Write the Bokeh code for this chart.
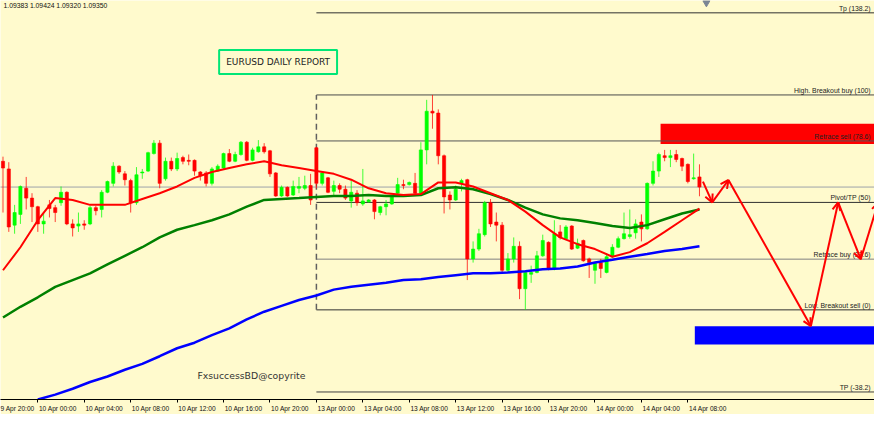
from bokeh.plotting import figure
from bokeh.models import ColumnDataSource, Range1d, FixedTicker, Label, Arrow, OpenHead
from bokeh.core.properties import value
from bokeh.embed import file_html
from bokeh.resources import INLINE

# ---------------- data (EURUSD, M30 bars, index 0 = 10 Apr 00:00) ----------------
bar_idx = list(range(-6, 115))

opens = [
    1.09434, 1.09409, 1.09226, 1.09261, 1.09346, 1.09314,
    1.09286, 1.09230, 1.09292, 1.09283, 1.09299, 1.09333, 1.09230, 1.09223,
    1.09230, 1.09230, 1.09283, 1.09277, 1.09333, 1.09362, 1.09418, 1.09393,
    1.09371, 1.09299, 1.09396, 1.09402, 1.09459, 1.09493, 1.09377, 1.09434,
    1.09409, 1.09446, 1.09437, 1.09437, 1.09399, 1.09396, 1.09362, 1.09402,
    1.09412, 1.09459, 1.09434, 1.09456, 1.09496, 1.09437, 1.09465, 1.09481,
    1.09468, 1.09396, 1.09321, 1.09349, 1.09324, 1.09346, 1.09346, 1.09355,
    1.09478, 1.09362, 1.09380, 1.09336, 1.09355, 1.09343, 1.09305, 1.09330,
    1.09295, 1.09302, 1.09308, 1.09267, 1.09286, 1.09295, 1.09330, 1.09358,
    1.09358, 1.09362, 1.09330, 1.09471, 1.09597, 1.09591, 1.09452, 1.09324,
    1.09308, 1.09362, 1.09374, 1.09116, 1.09148, 1.09195, 1.09299, 1.09236,
    1.09226, 1.09079, 1.09116, 1.09157, 1.09019, 1.09066, 1.09072, 1.09126,
    1.09170, 1.09085, 1.09204, 1.09182, 1.09223, 1.09151, 1.09176, 1.09116,
    1.09079, 1.09104, 1.09072, 1.09123, 1.09154, 1.09182, 1.09189, 1.09201,
    1.09236, 1.09214, 1.09362, 1.09402, 1.09452, 1.09446, 1.09456, 1.09443,
    1.09424, 1.09377, 1.09383,
]
highs = [
    1.09449, 1.09431, 1.09292, 1.09355, 1.09383, 1.09330,
    1.09289, 1.09267, 1.09308, 1.09292, 1.09352, 1.09336, 1.09245, 1.09267,
    1.09242, 1.09289, 1.09289, 1.09340, 1.09371, 1.09431, 1.09421, 1.09402,
    1.09377, 1.09415, 1.09409, 1.09465, 1.09503, 1.09503, 1.09446, 1.09446,
    1.09462, 1.09452, 1.09456, 1.09440, 1.09402, 1.09402, 1.09415, 1.09424,
    1.09462, 1.09474, 1.09465, 1.09500, 1.09500, 1.09478, 1.09503, 1.09493,
    1.09471, 1.09399, 1.09355, 1.09352, 1.09371, 1.09383, 1.09387, 1.09393,
    1.09481, 1.09399, 1.09383, 1.09371, 1.09362, 1.09355, 1.09371, 1.09340,
    1.09409, 1.09311, 1.09311, 1.09289, 1.09308, 1.09324, 1.09380, 1.09374,
    1.09368, 1.09396, 1.09496, 1.09634, 1.09650, 1.09603, 1.09456, 1.09336,
    1.09355, 1.09377, 1.09377, 1.09173, 1.09214, 1.09305, 1.09311, 1.09267,
    1.09236, 1.09135, 1.09186, 1.09173, 1.09079, 1.09094, 1.09142, 1.09195,
    1.09173, 1.09242, 1.09226, 1.09226, 1.09226, 1.09182, 1.09179, 1.09120,
    1.09104, 1.09116, 1.09135, 1.09164, 1.09189, 1.09267, 1.09277, 1.09245,
    1.09261, 1.09365, 1.09434, 1.09462, 1.09471, 1.09471, 1.09471, 1.09446,
    1.09427, 1.09459, 1.09424,
]
lows = [
    1.09267, 1.09204, 1.09198, 1.09230, 1.09277, 1.09236,
    1.09204, 1.09198, 1.09251, 1.09236, 1.09289, 1.09226, 1.09189, 1.09204,
    1.09211, 1.09226, 1.09258, 1.09251, 1.09330, 1.09352, 1.09393, 1.09355,
    1.09267, 1.09292, 1.09377, 1.09399, 1.09456, 1.09346, 1.09371, 1.09402,
    1.09402, 1.09424, 1.09421, 1.09387, 1.09371, 1.09352, 1.09355, 1.09399,
    1.09409, 1.09431, 1.09431, 1.09452, 1.09434, 1.09434, 1.09462, 1.09459,
    1.09383, 1.09318, 1.09318, 1.09318, 1.09321, 1.09330, 1.09340, 1.09292,
    1.09346, 1.09355, 1.09330, 1.09324, 1.09330, 1.09308, 1.09283, 1.09289,
    1.09289, 1.09299, 1.09245, 1.09258, 1.09258, 1.09292, 1.09324, 1.09343,
    1.09355, 1.09327, 1.09327, 1.09424, 1.09540, 1.09424, 1.09264, 1.09277,
    1.09305, 1.09336, 1.09047, 1.09104, 1.09142, 1.09189, 1.09220, 1.09173,
    1.09072, 1.09072, 1.09104, 1.08985, 1.08950, 1.09038, 1.09069, 1.09123,
    1.09079, 1.09079, 1.09179, 1.09179, 1.09145, 1.09148, 1.09107, 1.09054,
    1.09035, 1.09054, 1.09069, 1.09120, 1.09151, 1.09179, 1.09182, 1.09182,
    1.09173, 1.09211, 1.09355, 1.09383, 1.09434, 1.09415, 1.09431, 1.09402,
    1.09362, 1.09374, 1.09320,
]
closes = [
    1.09412, 1.09220, 1.09267, 1.09352, 1.09314, 1.09286,
    1.09230, 1.09239, 1.09280, 1.09267, 1.09333, 1.09230, 1.09217, 1.09230,
    1.09226, 1.09283, 1.09273, 1.09333, 1.09368, 1.09418, 1.09399, 1.09374,
    1.09299, 1.09390, 1.09399, 1.09462, 1.09493, 1.09362, 1.09434, 1.09409,
    1.09443, 1.09434, 1.09434, 1.09402, 1.09387, 1.09362, 1.09409, 1.09418,
    1.09459, 1.09434, 1.09456, 1.09496, 1.09437, 1.09471, 1.09481, 1.09465,
    1.09393, 1.09321, 1.09349, 1.09321, 1.09352, 1.09352, 1.09355, 1.09308,
    1.09362, 1.09396, 1.09333, 1.09355, 1.09343, 1.09314, 1.09333, 1.09299,
    1.09305, 1.09308, 1.09270, 1.09286, 1.09295, 1.09321, 1.09358, 1.09355,
    1.09365, 1.09330, 1.09471, 1.09597, 1.09591, 1.09452, 1.09318, 1.09308,
    1.09343, 1.09371, 1.09116, 1.09148, 1.09198, 1.09299, 1.09230, 1.09226,
    1.09079, 1.09116, 1.09157, 1.09019, 1.09072, 1.09072, 1.09126, 1.09176,
    1.09085, 1.09198, 1.09186, 1.09220, 1.09148, 1.09167, 1.09110, 1.09104,
    1.09101, 1.09085, 1.09123, 1.09154, 1.09182, 1.09198, 1.09195, 1.09230,
    1.09214, 1.09362, 1.09402, 1.09456, 1.09446, 1.09452, 1.09440, 1.09418,
    1.09368, 1.09380, 1.09350,
]

# moving averages read at every third bar
ma_idx = [-6, -3, 0, 3, 6, 9, 12, 15, 18, 21, 24, 27, 30, 33, 36, 39, 42, 45, 48, 51,
          54, 57, 60, 63, 66, 69, 72, 75, 78, 81, 84, 87, 90, 93, 96, 99, 102, 105, 108, 111, 114]
ma_red = [
    1.09079, 1.09154, 1.09242, 1.09314, 1.09308, 1.09292, 1.09292, 1.09292, 1.09311, 1.09330,
    1.09352, 1.09380, 1.09399, 1.09412, 1.09424, 1.09434, 1.09421, 1.09412, 1.09402, 1.09393,
    1.09374, 1.09346, 1.09330, 1.09324, 1.09327, 1.09365, 1.09365, 1.09352, 1.09330, 1.09308,
    1.09270, 1.09226, 1.09186, 1.09164, 1.09148, 1.09123, 1.09138, 1.09167, 1.09204, 1.09242,
    1.09280,
]
ma_green = [
    1.08925, 1.08960, 1.08991, 1.09025, 1.09047, 1.09069, 1.09098, 1.09126, 1.09154, 1.09186,
    1.09211, 1.09226, 1.09242, 1.09261, 1.09286, 1.09308, 1.09311, 1.09314, 1.09318, 1.09321,
    1.09321, 1.09324, 1.09321, 1.09321, 1.09324, 1.09346, 1.09349, 1.09343, 1.09327, 1.09308,
    1.09283, 1.09261, 1.09248, 1.09242, 1.09233, 1.09223, 1.09217, 1.09226, 1.09245, 1.09264,
    1.09277,
]
blue_idx = ma_idx[2:]
ma_blue = [
    1.08658, 1.08674, 1.08693, 1.08715, 1.08733, 1.08755, 1.08774, 1.08799, 1.08825, 1.08843,
    1.08868, 1.08890, 1.08919, 1.08944, 1.08963, 1.08982, 1.08997, 1.09016, 1.09025, 1.09032,
    1.09038, 1.09047, 1.09050, 1.09057, 1.09063, 1.09069, 1.09069, 1.09072, 1.09076, 1.09082,
    1.09085, 1.09091, 1.09104, 1.09113, 1.09123, 1.09132, 1.09142, 1.09148, 1.09157,
]

# Fibonacci drawing
fib_high = 1.09650
fib_low = 1.08950
fib_start = 48
fib_ratios = [138.2, 100, 78.6, 50, 23.6, 0, -38.2]
fib_names = ["Tp (138.2)", "High. Breakout buy (100)", "Retrace sell (78.6)", "Pivot/TP (50)",
             "Retrace buy (23.6)", "Low. Breakout sell (0)", "TP (-38.2)"]
fib_colors = ["#303030", "#4a4a4a", "#555555", "#303030", "#808080", "#303030", "#404040"]

# zones
sell_zone = dict(left=107.3, bottom=1.09490, top=1.09556)
buy_zone = dict(left=113.2, bottom=1.08837, top=1.08897)

# projected zig-zag path
zz_idx = [114.6, 116.2, 119.0, 133.2, 137.9, 141.8, 144.8]
zz_price = [1.09368, 1.09300, 1.09373, 1.08897, 1.09300, 1.09115, 1.09300]

# time axis
tick_idx = [-8, 0, 8, 16, 24, 32, 40, 48, 56, 64, 72, 80, 88, 96, 104, 112]
tick_labels = ["9 Apr 20:00", "10 Apr 00:00", "10 Apr 04:00", "10 Apr 08:00", "10 Apr 12:00",
               "10 Apr 16:00", "10 Apr 20:00", "13 Apr 00:00", "13 Apr 04:00", "13 Apr 08:00",
               "13 Apr 12:00", "13 Apr 16:00", "13 Apr 20:00", "14 Apr 00:00", "14 Apr 04:00",
               "14 Apr 08:00"]

header = "1.09383 1.09424 1.09320 1.09350"

# ---------------- figure ----------------
BG = "#FFFACD"
p = figure(width=874, height=414,
           x_range=Range1d(-6.43, 144.16), y_range=Range1d(1.086581, 1.099576),
           output_backend="svg", toolbar_location=None, y_axis_location=None,
           min_border_left=0, min_border_right=0, min_border_top=0, min_border_bottom=0,
           background_fill_color=BG, border_fill_color=BG, outline_line_color=None)
p.grid.visible = False

# x axis with labels starting at the tick
label_offset = 3.45
ax = p.xaxis[0]
ax.ticker = FixedTicker(ticks=[t + label_offset for t in tick_idx], minor_ticks=tick_idx)
ax.major_label_overrides = {t + label_offset: lab for t, lab in zip(tick_idx, tick_labels)}
ax.major_tick_line_color = None
ax.major_tick_out = 3
ax.major_tick_in = 0
ax.minor_tick_line_color = "black"
ax.minor_tick_out = 3
ax.minor_tick_in = 0
ax.axis_line_color = "black"
ax.major_label_standoff = 2
ax.major_label_text_font = "Liberation Sans"
ax.major_label_text_font_size = "6.6px"
ax.major_label_text_color = "#111111"

# zones
p.quad(left=sell_zone["left"], right=150, bottom=sell_zone["bottom"], top=sell_zone["top"],
       fill_color="#FF0000", line_color=None)
p.quad(left=buy_zone["left"], right=150, bottom=buy_zone["bottom"], top=buy_zone["top"],
       fill_color="#0000FF", line_color=None)

# fib levels
fib_prices = [fib_low + r / 100.0 * (fib_high - fib_low) for r in fib_ratios]
p.segment(x0=[fib_start] * len(fib_prices), x1=[150] * len(fib_prices),
          y0=fib_prices, y1=fib_prices, line_color=fib_colors, line_width=1)
p.segment(x0=[fib_start], x1=[fib_start], y0=[fib_low], y1=[fib_high],
          line_color="#606060", line_width=1.5, line_dash="6 4")

# bid line
p.segment(x0=[-10], x1=[150], y0=[closes[-1]], y1=[closes[-1]], line_color="#9DA3AA", line_width=1)

# candles
colors = ["#00FF00" if c >= o else "#FF0000" for o, c in zip(opens, closes)]
src = ColumnDataSource(dict(
    x=bar_idx, high=highs, low=lows,
    top=[max(o, c) for o, c in zip(opens, closes)],
    bottom=[min(o, c) for o, c in zip(opens, closes)],
    color=colors))
p.segment(x0="x", x1="x", y0="low", y1="high", line_color="color", line_width=1,
          line_alpha=0.75, source=src)
p.vbar(x="x", width=0.55, top="top", bottom="bottom", fill_color="color",
       line_color="color", line_width=0.6, source=src)

# moving averages
p.line(blue_idx, ma_blue, line_color="#0000FF", line_width=2.5)
p.line(ma_idx, ma_green, line_color="#008000", line_width=2.5)
p.line(ma_idx, ma_red, line_color="#FF0000", line_width=2)

# fib labels
p.text(x=[143.5] * len(fib_prices), y=fib_prices, text=fib_names,
       text_align="right", text_baseline="bottom", y_offset=-1,
       text_font=value("Liberation Sans"), text_font_size="6.9px", text_color="#222222")

# projected path with arrow heads
zz_src = ColumnDataSource(dict(x0=zz_idx[:-1], y0=zz_price[:-1], x1=zz_idx[1:], y1=zz_price[1:]))
p.add_layout(Arrow(x_start="x0", y_start="y0", x_end="x1", y_end="y1", source=zz_src,
                   line_color="#FF0000", line_width=2,
                   end=OpenHead(size=8, line_color="#FF0000", line_width=2)))

# shift marker
p.scatter(x=[115.2], y=[1.09950], marker="inverted_triangle", size=7,
          fill_color="#7B8594", line_color="#7B8594")

# texts
p.add_layout(Label(x=-5.92, y=1.09942, text=header, text_align="left", text_baseline="middle",
                   text_font="Liberation Sans", text_font_size="6.8px", text_color="#111111"))
p.add_layout(Label(x=41.4, y=1.09757, text="EURUSD DAILY REPORT", text_align="center",
                   text_baseline="middle", text_font="DejaVu Sans", text_font_size="9px",
                   text_color="#222222", border_line_color="#00E676", border_line_width=2,
                   padding=7))
p.add_layout(Label(x=36.8, y=1.08737, text="FxsuccessBD@copyrite", text_align="center",
                   text_baseline="middle", text_font="DejaVu Sans", text_font_size="9.3px",
                   text_color="#333333"))

open("out.html", "w").write(file_html(p, INLINE))
